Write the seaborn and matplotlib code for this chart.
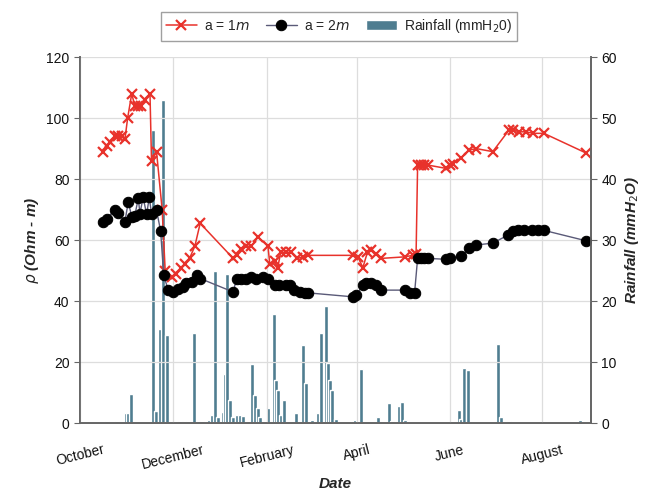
import numpy as np
import pandas as pd
import matplotlib
matplotlib.use('Agg')
import matplotlib.pyplot as plt
import seaborn as sns

# days counted from 1 October
days_a1 = [15, 17.5, 19.7, 23, 25, 27.4, 29.5, 31.3, 34, 36, 38.3, 40.4, 42.7, 46, 47, 50.3,
           54, 56, 60.6, 63.4, 66.7, 69, 72, 75.5, 79, 100.7, 103, 106, 109, 112.7, 117,
           123.6, 124.8, 128, 130, 132, 135.6, 139, 143, 146.6, 150, 179.5, 182.7, 186, 189,
           191.5, 194.8, 198, 213.4, 218.8, 221, 222, 224, 226.5, 228.7, 240.8, 243, 245,
           250.6, 256, 260.5, 271.4, 282, 285, 289, 293, 298, 305, 333]
rho_a1 = [89, 91, 92, 94, 94, 94, 93, 100, 108, 104, 104, 104, 106, 108, 86, 89,
          70, 50, 48, 49, 51, 52, 54, 58, 65.5, 54, 55, 57, 58, 58, 61,
          58, 52, 53, 51, 56, 56, 56, 54, 54.5, 55, 55, 54.5, 51, 56,
          56.7, 55.6, 54, 54.5, 55, 55.6, 84.6, 84.6, 84.6, 84.6, 83.5, 84.6, 85,
          87, 89.5, 90, 89, 96, 96, 95.5, 95.5, 95, 95, 88.5]

days_a2 = [15.3, 17.5, 23, 25, 29.5, 31.7, 34, 36, 38.3, 39.4, 41.5, 43.8, 45.5, 47, 50.3,
           53, 55, 58, 61, 64.5, 68, 70, 73.3, 76.6, 79, 100.7, 103, 106, 109, 112.7, 116,
           120, 123.6, 128, 131, 135.6, 138, 141, 144.5, 147.7, 150, 179.5, 181.7, 186, 188,
           191.5, 194.8, 198, 213.4, 216.7, 220, 222, 224, 226.5, 229, 240.8, 243, 250.6,
           256, 260.5, 271.4, 281.3, 284.6, 288, 292, 297, 301, 305, 332.6]
rho_a2 = [66, 67, 70, 69, 66, 72.5, 67.7, 68, 73.7, 68.7, 74, 68.4, 74, 68.7, 69.8,
          63, 48.5, 43.6, 43, 44, 44.7, 45.8, 46.3, 48.5, 47.4, 43, 47.4, 47.4, 47.4, 48, 47.4,
          48, 47.4, 45.2, 45.2, 45.2, 45.2, 43.6, 43, 42.7, 42.7, 41.4, 42, 45.2, 45.8,
          45.8, 45.2, 43.6, 43.6, 42.7, 42.7, 54, 54, 54, 54, 53.7, 54, 54.7,
          57.3, 58.4, 59, 61.6, 63, 63.2, 63.2, 63.2, 63.2, 63.2, 59.8]

rain_days = [18, 24, 30, 31.5, 33.5, 48, 50, 52.5, 54.7, 57.5, 65.6, 69, 71, 74.8, 78, 80,
             85, 87, 88.6, 90.5, 94, 95, 96.7, 98.5, 100.5, 103, 105, 107, 111, 113.4, 115,
             117, 118.6, 123.6, 127.6, 129, 130.3, 132, 134, 142, 146.6, 148.8, 152.5, 156.5,
             158.7, 161.5, 163, 164.6, 166, 168.5, 180.5, 185, 196, 203, 205, 209.7, 212,
             213.5, 249, 250.8, 252.8, 255, 275, 277, 282, 328.7]
rain_mm = [0.4, 0.3, 1.6, 1.6, 4.75, 48, 2, 15.5, 53, 14.4, 0.3, 0.3, 0.3, 14.7, 0.3, 0.3,
           0.5, 1.3, 25, 1, 1.8, 8, 24.5, 3.8, 1, 1.3, 1.3, 1.2, 0.3, 9.7, 4.6,
           2.4, 1, 2.4, 17.9, 7, 5.4, 1.3, 3.8, 1.6, 12.8, 6.5, 0.5, 1.6,
           14.8, 19.2, 9.8, 7, 5.5, 0.6, 0.5, 8.9, 1, 3.3, 0.3, 2.8, 3.5,
           0.5, 2.2, 0.7, 9, 8.7, 13, 1, 0.4, 0.5]

month_ticks = [0, 61, 123, 182, 243, 304]
month_labels = ['October', 'December', 'February', 'April', 'June', 'August']

df1 = pd.DataFrame({'day': days_a1, 'rho': rho_a1})
df2 = pd.DataFrame({'day': days_a2, 'rho': rho_a2})

sns.set_theme(style='whitegrid')
plt.rcParams['font.family'] = ['Liberation Sans', 'DejaVu Sans']

fig, ax = plt.subplots(figsize=(6.67, 4.92), dpi=100)
fig.subplots_adjust(left=0.12, right=0.886, top=0.884, bottom=0.14)
ax2 = ax.twinx()

bar_color = '#4f7d90'
ax2.bar(rain_days, rain_mm, width=2.6, color=bar_color, label='Rainfall (mmH$_2$0)')
ax2.set_ylim(0, 60)
ax2.set_yticks(range(0, 61, 10))
ax2.grid(False)

sns.lineplot(data=df1, x='day', y='rho', ax=ax, sort=False, color='#e8322b', lw=1.1,
             marker='x', markersize=7, markeredgewidth=1.6, markeredgecolor='#e8322b',
             label='a = 1$m$')
sns.lineplot(data=df2, x='day', y='rho', ax=ax, sort=False, color='#5a5a78', lw=1.0,
             marker='o', markersize=7.5, markerfacecolor='black', markeredgecolor='black',
             label='a = 2$m$')

ax.set_zorder(ax2.get_zorder() + 1)
ax.patch.set_visible(False)

ax.set_xlim(0, 336)
ax.set_ylim(0, 120)
ax.set_yticks(range(0, 121, 20))
ax.set_xticks(month_ticks)
ax.set_xticklabels(month_labels, rotation=14, ha='center')
ax.grid(True, color='#dddddd', lw=0.9)

for a in (ax, ax2):
    for s in a.spines.values():
        s.set_color('#666666')
    a.spines['top'].set_visible(False)
    a.tick_params(axis='both', length=4, width=0.8, color='#666666', labelsize=10,
                  labelcolor='#111111')
ax.tick_params(axis='x', pad=10)

ax.set_xlabel('Date', fontsize=11, fontweight='bold', style='italic')
ax.set_ylabel(r'$\rho$ (Ohm - m)', fontsize=11, fontweight='bold', style='italic')
ax2.set_ylabel('Rainfall (mmH$_2$O)', fontsize=11, fontweight='bold', style='italic')

h1, l1 = ax.get_legend_handles_labels()
h2, l2 = ax2.get_legend_handles_labels()
ax.get_legend().remove()
fig.legend(h1 + h2, l1 + l2, loc='center', bbox_to_anchor=(0.508, 0.947), ncol=3,
           frameon=True, fancybox=False, edgecolor='#888888', fontsize=10,
           handlelength=2.2, columnspacing=1.2, handletextpad=0.5, borderpad=0.4)

plt.savefig('out.png', dpi=100)
